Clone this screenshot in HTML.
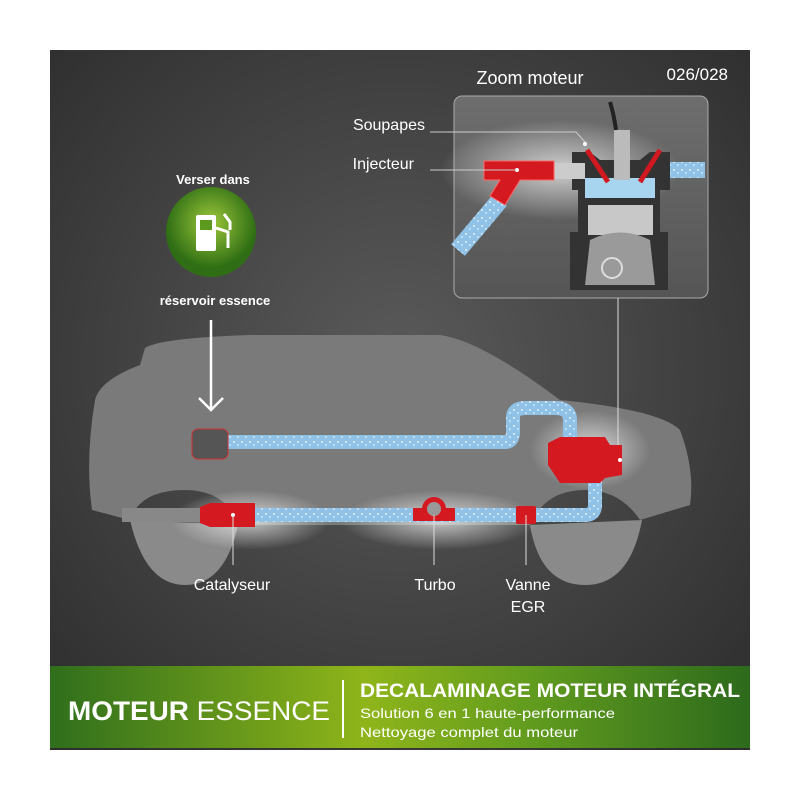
<!DOCTYPE html>
<html><head><meta charset="utf-8"><style>
body{margin:0;background:#fff;width:800px;height:800px;overflow:hidden;font-family:"Liberation Sans",sans-serif}
</style></head><body>
<svg width="800" height="800" viewBox="0 0 800 800" xmlns="http://www.w3.org/2000/svg">
<defs>
<radialGradient id="bg" cx="0.5" cy="0.45" r="0.7"><stop offset="0" stop-color="#5a5a5a"/><stop offset="1" stop-color="#2e2e2e"/></radialGradient>
<linearGradient id="gr" x1="0" x2="1"><stop offset="0" stop-color="#2f6e1c"/><stop offset="0.45" stop-color="#8fb51a"/><stop offset="0.7" stop-color="#5f9a1e"/><stop offset="1" stop-color="#2d6a1c"/></linearGradient>
<radialGradient id="glow"><stop offset="0" stop-color="#fff" stop-opacity="0.7"/><stop offset="1" stop-color="#fff" stop-opacity="0"/></radialGradient>
<radialGradient id="pump" cx="0.5" cy="0.4"><stop offset="0" stop-color="#9cc83a"/><stop offset="1" stop-color="#2f6e14"/></radialGradient>
<linearGradient id="box" x1="0" y1="0" x2="0" y2="1"><stop offset="0" stop-color="#6e6e6e"/><stop offset="1" stop-color="#555"/></linearGradient>
<pattern id="dots" width="8" height="8" patternUnits="userSpaceOnUse"><rect width="8" height="8" fill="#8fc2e6"/><circle cx="2" cy="2" r="0.9" fill="#fff"/><circle cx="6" cy="5" r="0.8" fill="#fff"/></pattern>
</defs>
<rect x="50" y="50" width="700" height="700" fill="url(#bg)"/>
<text x="728" y="80" fill="#fff" font-size="17" text-anchor="end">026/028</text>
<text x="530" y="84" fill="#fff" font-size="18" text-anchor="middle">Zoom moteur</text>
<!-- zoom box -->
<rect x="454" y="96" width="254" height="202" rx="8" fill="url(#box)" stroke="#aaa" stroke-width="1"/>
<ellipse cx="560" cy="170" rx="120" ry="50" fill="url(#glow)"/>
<path d="M458 250 L500 200" stroke="url(#dots)" stroke-width="18"/>
<rect x="670" y="162" width="35" height="16" fill="url(#dots)"/>
<path d="M578 190 L578 232 L570 232 L570 290 L668 290 L668 232 L660 232 L660 190 Z" fill="#333"/>
<path d="M572 152 L590 152 L600 160 L640 160 L650 152 L670 152 L670 190 L572 190 Z" fill="#333"/>
<rect x="585" y="178" width="70" height="20" fill="#a7d4ef"/>
<rect x="588" y="205" width="65" height="30" fill="#c8c8c8"/>
<path d="M590 240 Q620 225 650 240 L655 285 L585 285 Z" fill="#9a9a9a"/>
<circle cx="612" cy="268" r="10" fill="none" stroke="#ddd" stroke-width="2"/>
<rect x="614" y="130" width="16" height="50" fill="#bbb"/>
<path d="M616 130 Q614 115 610 102" stroke="#222" stroke-width="4" fill="none"/>
<path d="M587 150 L608 182 M660 150 L640 182" stroke="#d01820" stroke-width="5"/>
<rect x="555" y="163" width="30" height="16" fill="#ccc"/>
<path d="M484 161 L554 161 L554 180 L520 180 L505 205 L490 196 L500 180 L484 180 Z" fill="#d41a20" stroke="#f66" stroke-width="1"/>
<circle cx="517" cy="170" r="2" fill="#fff"/>
<line x1="430" y1="170" x2="517" y2="170" stroke="#ccc"/>
<path d="M430 132 L576 132 L585 142" stroke="#ccc" fill="none"/>
<circle cx="585" cy="144" r="2" fill="#fff"/>
<text x="425" y="130" fill="#fff" font-size="16" text-anchor="end">Soupapes</text>
<text x="414" y="169" fill="#fff" font-size="16" text-anchor="end">Injecteur</text>
<!-- pump -->
<text x="213" y="184" fill="#fff" font-size="13" font-weight="bold" text-anchor="middle">Verser dans</text>
<circle cx="211" cy="232" r="45" fill="url(#pump)"/>
<rect x="196" y="215" width="20" height="36" fill="#fff" rx="2"/>
<rect x="200" y="220" width="12" height="10" fill="#5b9a1e"/>
<path d="M216 228 L228 232 L228 248 M224 214 L230 222 L230 230" stroke="#fff" stroke-width="3" fill="none"/>
<text x="215" y="305" fill="#fff" font-size="13" font-weight="bold" text-anchor="middle">réservoir essence</text>
<!-- car -->
<path d="M95 400 Q100 380 140 365 L145 348 Q160 338 250 335 L440 335 Q480 340 560 400 Q660 410 680 430 Q695 470 690 505 L640 520 Q620 490 585 490 Q545 490 530 525 L240 525 Q225 490 185 490 Q140 490 130 520 L92 510 Q85 460 95 400 Z" fill="#7a7a7a"/>
<path d="M130 520 Q145 585 185 585 Q225 585 238 525 Z M530 525 Q540 585 585 585 Q630 585 642 520 Z" fill="#8a8a8a"/>
<ellipse cx="250" cy="520" rx="80" ry="30" fill="url(#glow)"/>
<ellipse cx="440" cy="520" rx="100" ry="30" fill="url(#glow)"/>
<ellipse cx="590" cy="450" rx="60" ry="40" fill="url(#glow)"/>
<line x1="618" y1="298" x2="618" y2="460" stroke="#ddd"/>
<line x1="211" y1="320" x2="211" y2="410" stroke="#fff" stroke-width="2.5"/>
<path d="M199 398 L211 410 L223 398" stroke="#fff" stroke-width="2.5" fill="none"/>
<!-- pipes -->
<path d="M225 442 L505 442 Q513 442 513 432 L513 418 Q513 408 525 408 L555 408 Q570 408 570 420 L570 440" stroke="url(#dots)" stroke-width="14" fill="none"/>
<path d="M240 515 L585 515 Q595 515 595 505 L595 475" stroke="url(#dots)" stroke-width="14" fill="none"/>
<rect x="192" y="429" width="36" height="30" rx="6" fill="#555" stroke="#c33" stroke-width="1"/>
<rect x="122" y="508" width="80" height="14" fill="#888"/>
<path d="M200 507 L210 503 L255 503 L255 527 L210 527 L200 523 Z" fill="#d41a20"/>
<circle cx="233" cy="515" r="2" fill="#fff"/>
<rect x="413" y="508" width="42" height="13" fill="#d41a20"/>
<circle cx="434" cy="509" r="12" fill="#d41a20"/><circle cx="434" cy="509" r="7" fill="#999"/>
<rect x="516" y="506" width="20" height="18" rx="2" fill="#d41a20"/>
<path d="M548 443 L560 437 L605 437 L610 445 L622 445 L622 475 L605 478 L600 483 L560 483 L548 465 Z" fill="#d41a20"/>
<circle cx="620" cy="460" r="2" fill="#fff"/>
<line x1="233" y1="515" x2="233" y2="565" stroke="#ddd"/>
<line x1="434" y1="515" x2="434" y2="565" stroke="#ddd"/>
<line x1="526" y1="515" x2="526" y2="565" stroke="#ddd"/>
<text x="232" y="590" fill="#fff" font-size="16" text-anchor="middle">Catalyseur</text>
<text x="435" y="590" fill="#fff" font-size="16" text-anchor="middle">Turbo</text>
<text x="528" y="590" fill="#fff" font-size="16" text-anchor="middle">Vanne</text>
<text x="528" y="612" fill="#fff" font-size="16" text-anchor="middle">EGR</text>
<!-- banner -->
<rect x="50" y="666" width="700" height="82" fill="url(#gr)"/>
<text x="68" y="720" fill="#fff" font-size="27" textLength="262" lengthAdjust="spacingAndGlyphs"><tspan font-weight="bold">MOTEUR</tspan> ESSENCE</text>
<line x1="343" y1="680" x2="343" y2="738" stroke="#fff" stroke-width="2"/>
<text x="360" y="697" fill="#fff" font-size="19" font-weight="bold" textLength="380" lengthAdjust="spacingAndGlyphs">DECALAMINAGE MOTEUR INTÉGRAL</text>
<text x="360" y="718" fill="#fff" font-size="14" textLength="255" lengthAdjust="spacingAndGlyphs">Solution 6 en 1 haute-performance</text>
<text x="360" y="737" fill="#fff" font-size="14" textLength="218" lengthAdjust="spacingAndGlyphs">Nettoyage complet du moteur</text>
</svg>
</body></html>
